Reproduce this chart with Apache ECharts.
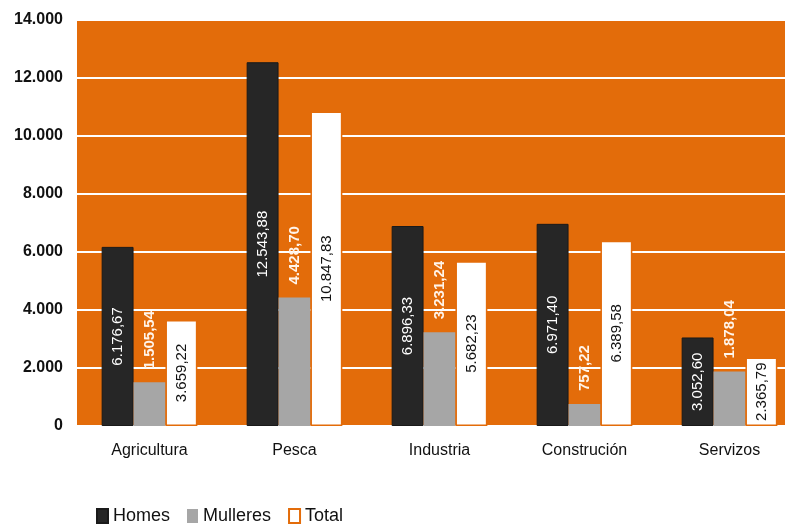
<!DOCTYPE html>
<html>
<head>
<meta charset="utf-8">
<script src="https://cdn.jsdelivr.net/npm/echarts@6/dist/echarts.min.js"></script>
<style>
html,body{margin:0;padding:0;background:#fff;overflow:hidden;width:785px;height:526px;}
#c{width:810px;height:526px;}
</style>
</head>
<body>
<div id="c"></div>
<script>
var categories = ['Agricultura', 'Pesca', 'Industria', 'Construción', 'Servizos'];
var homes = [6176.67, 12543.88, 6896.33, 6971.40, 3052.60];
var mulleres = [1505.54, 4428.70, 3231.24, 757.22, 1878.04];
var total = [3659.22, 10847.83, 5682.23, 6389.58, 2365.79];
var seriesNames = ['Homes', 'Mulleres', 'Total'];
var yTicks = { min: 0, max: 14000, interval: 2000 };

function fmt(v, dec) {
  var parts = v.toFixed(dec).split('.');
  var intPart = parts[0].replace(/\B(?=(\d{3})+(?!\d))/g, '.');
  return parts.length > 1 ? intPart + ',' + parts[1] : intPart;
}

var orange = '#E36C0A';
var chart = echarts.init(document.getElementById('c'), null, { renderer: 'canvas' });
chart.setOption({
  animation: false,
  backgroundColor: '#ffffff',
  grid: {
    left: 77, top: 20, width: 725, height: 406,
    show: true, backgroundColor: orange, borderWidth: 0
  },
  legend: {
    left: 91, top: 502,
    itemWidth: 11, itemHeight: 14, itemGap: 17,
    icon: 'rect',
    textStyle: { fontFamily: 'Liberation Sans', fontSize: 18, color: '#111' },
    data: seriesNames
  },
  xAxis: {
    type: 'category',
    data: categories,
    axisLine: { show: false },
    axisTick: { show: false },
    axisLabel: { margin: 17, fontFamily: 'Liberation Sans', fontSize: 16, color: '#111' }
  },
  yAxis: {
    type: 'value',
    min: yTicks.min, max: yTicks.max, interval: yTicks.interval,
    axisLine: { show: false },
    axisTick: { show: false },
    splitLine: { show: true, lineStyle: { color: '#ffffff', width: 2 } },
    axisLabel: {
      margin: 14, fontFamily: 'Liberation Sans', fontSize: 16, fontWeight: 'bold', color: '#111',
      formatter: function (v) { return fmt(v, 0); }
    }
  },
  series: [
    {
      name: seriesNames[0], type: 'bar', data: homes,
      barGap: '0%', barCategoryGap: '34%',
      itemStyle: { color: '#262626', borderColor: '#1a1a1a', borderWidth: 1 },
      label: {
        show: true, position: 'inside', rotate: 90,
        color: '#ffffff', fontFamily: 'Liberation Sans', fontSize: 15,
        formatter: function (p) { return fmt(p.value, 2); }
      }
    },
    {
      name: seriesNames[1], type: 'bar', data: mulleres,
      barGap: '0%', barCategoryGap: '34%',
      itemStyle: { color: '#A6A6A6' },
      label: {
        show: true, position: 'top', rotate: 90, distance: 13,
        align: 'left', verticalAlign: 'middle',
        color: '#FFF4EA', fontFamily: 'Liberation Sans', fontSize: 15, fontWeight: 'bold',
        formatter: function (p) { return fmt(p.value, 2); }
      }
    },
    {
      name: seriesNames[2], type: 'bar', data: total,
      barGap: '0%', barCategoryGap: '34%',
      itemStyle: { color: '#ffffff', borderColor: orange, borderWidth: 1.5 },
      label: {
        show: true, position: 'inside', rotate: 90,
        color: '#111111', fontFamily: 'Liberation Sans', fontSize: 15,
        formatter: function (p) { return fmt(p.value, 2); }
      }
    }
  ]
});
</script>
</body>
</html>
